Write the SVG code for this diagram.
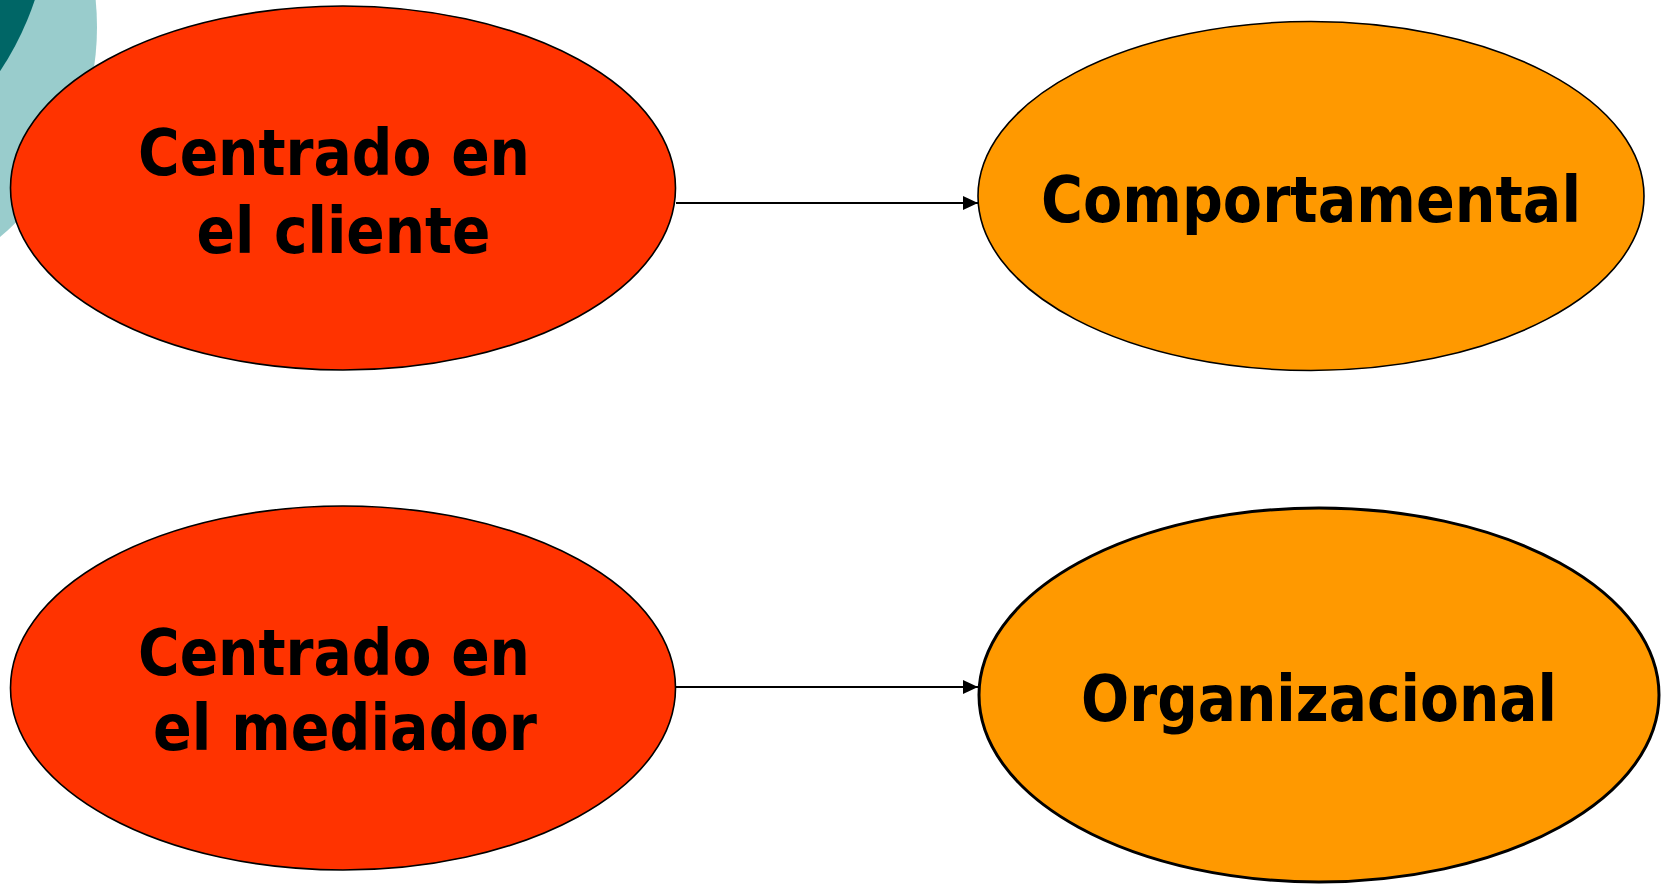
<svg xmlns="http://www.w3.org/2000/svg" width="1663" height="884" viewBox="0 0 1663 884">
<style>
.lbl{font-family:"DejaVu Sans",Verdana,sans-serif;font-weight:bold;font-size:64px;fill:#000;text-anchor:middle}
.red{fill:#FF3300;stroke:#000;stroke-width:1.6}
.org{fill:#FF9900;stroke:#000;stroke-width:1.6}
.conn{stroke:#000;stroke-width:2.2;fill:none}
</style>
<defs>
<marker id="arr" viewBox="0 0 15 14" refX="15" refY="7" markerWidth="15" markerHeight="14" markerUnits="userSpaceOnUse" orient="auto">
<path d="M0,0 L15,7 L0,14 Z" fill="#000"/>
</marker>
</defs>
<rect width="1663" height="884" fill="#fff"/>
<g id="decor">
<circle cx="-179" cy="27" r="276" fill="#99CCCC"/>
<circle cx="-248" cy="-94" r="298" fill="#006666"/>
</g>
<g id="connectors">
<line class="conn" x1="676" y1="203" x2="978" y2="203" marker-end="url(#arr)"/>
<line class="conn" x1="676" y1="687" x2="978" y2="687" marker-end="url(#arr)"/>
</g>
<g id="node-cliente">
<ellipse class="red" cx="343" cy="188" rx="332.5" ry="182"/>
<text class="lbl" x="334" y="175" textLength="392" lengthAdjust="spacingAndGlyphs">Centrado en</text>
<text class="lbl" x="343.5" y="253" textLength="294" lengthAdjust="spacingAndGlyphs">el cliente</text>
</g>
<g id="node-comportamental">
<ellipse class="org" cx="1311" cy="196" rx="333" ry="174.5"/>
<text class="lbl" x="1311" y="222" textLength="540" lengthAdjust="spacingAndGlyphs">Comportamental</text>
</g>
<g id="node-mediador">
<ellipse class="red" cx="343" cy="688" rx="332.5" ry="182"/>
<text class="lbl" x="334" y="675" textLength="392" lengthAdjust="spacingAndGlyphs">Centrado en</text>
<text class="lbl" x="345" y="750" textLength="384" lengthAdjust="spacingAndGlyphs">el mediador</text>
</g>
<g id="node-organizacional">
<ellipse class="org" cx="1319" cy="695" rx="340" ry="187" style="stroke-width:3"/>
<text class="lbl" x="1319" y="721" textLength="476" lengthAdjust="spacingAndGlyphs">Organizacional</text>
</g>
</svg>
